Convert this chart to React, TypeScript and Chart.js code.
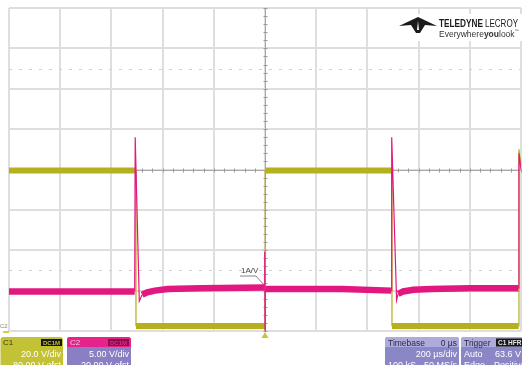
import React, { useEffect, useRef } from "react";
import { Chart, registerables } from "chart.js";

Chart.register(...registerables);

// Channel 1 (yellow) – time in µs, value in volts (20 V/div, -80 V offset)
const c1TimeUs = [-1000, -505, -504, 0, 1, 495, 496, 991, 992, 1000];
const c1Volts = [79.5, 79.5, 2.5, 2.5, 79.5, 79.5, 2.5, 2.5, 90, 82];

// Channel 2 (magenta) – time in µs, value in volts (5 V/div, -20 V offset)
const c2TimeUs = [-1000, -700, -509, -507, -491, -480, -460, -430, -380, -250, -2, -1, 0, 1, 3, 150, 300, 493, 495, 514, 520, 540, 580, 650, 800, 990, 992, 1000];
const c2Volts = [4.9, 4.9, 4.9, 24.0, 3.7, 4.5, 4.8, 5.0, 5.2, 5.3, 5.4, 9.8, 0.1, 5.2, 5.2, 5.2, 5.2, 5.0, 24.0, 3.8, 4.6, 4.9, 5.1, 5.2, 5.3, 5.3, 22.0, 20.0];

// Screen scales
const xMinUs = -1000;
const xMaxUs = 1000;
const xDivUs = 200;
const c1Min = 0;
const c1Max = 160;
const c1Div = 20;
const c2Min = 0;
const c2Max = 40;
const dottedLevelsC1 = [130, 30];

// Annotation texts
const c1Lines = ["C1", "DC1M", "20.0 V/div", "-80.00 V ofst"];
const c2Lines = ["C2", "DC1M", "5.00 V/div", "-20.00 V ofst"];
const timebaseLines = ["Timebase", "0 µs", "200 µs/div", "100 kS", "50 MS/s"];
const triggerLines = ["Trigger", "C1 HFR", "Auto", "63.6 V", "Edge", "Positive"];
const probeLabel = "1A/V";

const FONT = '"Liberation Sans", Arial, sans-serif';

function rrect(ctx: CanvasRenderingContext2D, x: number, y: number, w: number, h: number, r: number) {
  ctx.beginPath();
  ctx.moveTo(x + r, y);
  ctx.lineTo(x + w - r, y);
  ctx.quadraticCurveTo(x + w, y, x + w, y + r);
  ctx.lineTo(x + w, y + h - r);
  ctx.quadraticCurveTo(x + w, y + h, x + w - r, y + h);
  ctx.lineTo(x + r, y + h);
  ctx.quadraticCurveTo(x, y + h, x, y + h - r);
  ctx.lineTo(x, y + r);
  ctx.quadraticCurveTo(x, y, x + r, y);
  ctx.closePath();
}

function text(ctx: CanvasRenderingContext2D, s: string, x: number, y: number, color: string, size: number, align: CanvasTextAlign = "left", weight = "normal") {
  ctx.font = `${weight} ${size}px ${FONT}`;
  ctx.fillStyle = color;
  ctx.textAlign = align;
  ctx.textBaseline = "alphabetic";
  ctx.fillText(s, x, y);
}

const overlayPlugin = {
  id: "scopeOverlay",
  beforeDatasetsDraw(chart: any) {
    const { ctx, chartArea: a, scales } = chart;
    const xs = scales.x;
    const ys = scales.y;
    ctx.save();
    // dotted reference rows
    ctx.strokeStyle = "#d0d0d0";
    ctx.lineWidth = 1;
    ctx.setLineDash([3, 7]);
    for (const v of dottedLevelsC1) {
      const py = Math.round(ys.getPixelForValue(v)) + 0.5;
      ctx.beginPath();
      ctx.moveTo(a.left, py);
      ctx.lineTo(a.right, py);
      ctx.stroke();
    }
    ctx.setLineDash([]);
    // center crosshair with minor ticks
    const cx = Math.round(xs.getPixelForValue(0)) + 0.5;
    const cy = Math.round(ys.getPixelForValue((c1Min + c1Max) / 2)) + 0.5;
    ctx.strokeStyle = "#a8a8a8";
    ctx.beginPath();
    ctx.moveTo(a.left, cy);
    ctx.lineTo(a.right, cy);
    ctx.moveTo(cx, a.top);
    ctx.lineTo(cx, a.bottom);
    ctx.stroke();
    ctx.strokeStyle = "#9a9a9a";
    ctx.beginPath();
    for (let t = xMinUs; t <= xMaxUs; t += xDivUs / 5) {
      const px = Math.round(xs.getPixelForValue(t)) + 0.5;
      ctx.moveTo(px, cy - 2);
      ctx.lineTo(px, cy + 2);
    }
    for (let v = c1Min; v <= c1Max; v += c1Div / 5) {
      const py = Math.round(ys.getPixelForValue(v)) + 0.5;
      ctx.moveTo(cx - 2, py);
      ctx.lineTo(cx + 2, py);
    }
    ctx.stroke();
    // logo background
    ctx.fillStyle = "#ffffff";
    ctx.fillRect(395, 14, 127, 27);
    ctx.restore();
  },
  afterDraw(chart: any) {
    const { ctx, scales } = chart;
    const xs = scales.x;
    ctx.save();

    // Logo glyph
    ctx.fillStyle = "#1b1b1b";
    ctx.beginPath();
    ctx.moveTo(418, 17);
    ctx.lineTo(437, 26);
    ctx.lineTo(425, 25);
    ctx.lineTo(420, 33);
    ctx.lineTo(416, 33);
    ctx.lineTo(411, 25);
    ctx.lineTo(399, 26);
    ctx.closePath();
    ctx.fill();
    ctx.fillStyle = "#ffffff";
    ctx.beginPath();
    ctx.moveTo(418, 21);
    ctx.lineTo(419, 30);
    ctx.lineTo(417, 30);
    ctx.closePath();
    ctx.fill();

    ctx.font = `bold 10px ${FONT}`;
    ctx.fillStyle = "#1b1b1b";
    ctx.textAlign = "left";
    ctx.fillText("TELEDYNE", 439, 27, 44);
    ctx.font = `normal 10px ${FONT}`;
    ctx.fillText("LECROY", 485, 27, 33);
    let ex = 439;
    const parts: [string, string][] = [["Everywhere", "normal"], ["you", "bold"], ["look", "normal"]];
    for (const [s, w] of parts) {
      ctx.font = `${w} 8.5px ${FONT}`;
      ctx.fillStyle = "#333";
      ctx.fillText(s, ex, 37);
      ex += ctx.measureText(s).width;
    }
    ctx.font = `normal 4px ${FONT}`;
    ctx.fillText("™", ex, 32);

    // Probe label
    text(ctx, probeLabel, 241, 273, "#444", 8);
    ctx.strokeStyle = "#666";
    ctx.lineWidth = 0.8;
    ctx.beginPath();
    ctx.moveTo(240, 276);
    ctx.lineTo(256, 276);
    ctx.lineTo(264, 285);
    ctx.stroke();

    // C2 ground label + C1 marker
    text(ctx, "C2", 0, 328, "#8a8a60", 6);
    ctx.fillStyle = "#d4cf4a";
    ctx.fillRect(3, 331, 6, 2);

    // trigger position marker
    const tx = xs.getPixelForValue(0);
    ctx.fillStyle = "#c8c23a";
    ctx.beginPath();
    ctx.moveTo(tx, 332);
    ctx.lineTo(tx + 3.5, 338);
    ctx.lineTo(tx - 3.5, 338);
    ctx.closePath();
    ctx.fill();

    // C1 box
    rrect(ctx, 0.5, 337, 62.5, 40, 3);
    ctx.fillStyle = "#c3c136";
    ctx.fill();
    text(ctx, c1Lines[0], 3, 345, "#3a3a12", 8);
    ctx.fillStyle = "#161616";
    ctx.fillRect(41, 339, 21, 7);
    text(ctx, c1Lines[1], 51.5, 345, "#c3c136", 6, "center", "bold");
    text(ctx, c1Lines[2], 61, 357, "#ffffff", 9, "right");
    text(ctx, c1Lines[3], 61, 368, "#ffffff", 9, "right");

    // C2 box
    rrect(ctx, 67, 337, 64, 40, 3);
    ctx.fillStyle = "#8a7fc2";
    ctx.fill();
    rrect(ctx, 67, 337, 64, 10, 3);
    ctx.fillStyle = "#e6228b";
    ctx.fill();
    ctx.fillRect(67, 343, 64, 4);
    text(ctx, c2Lines[0], 70, 345, "#f8c8e0", 8);
    ctx.fillStyle = "#8c0f4a";
    ctx.fillRect(108, 339, 21, 7);
    text(ctx, c2Lines[1], 118.5, 345, "#e6228b", 6, "center", "bold");
    text(ctx, c2Lines[2], 129, 357, "#ffffff", 9, "right");
    text(ctx, c2Lines[3], 129, 368, "#ffffff", 9, "right");

    // Timebase box
    rrect(ctx, 385, 337, 74, 40, 3);
    ctx.fillStyle = "#8b86c6";
    ctx.fill();
    rrect(ctx, 385, 337, 74, 10, 3);
    ctx.fillStyle = "#aeaadb";
    ctx.fill();
    ctx.fillRect(385, 343, 74, 4);
    text(ctx, timebaseLines[0], 388, 345.5, "#2a2a44", 8.5);
    text(ctx, timebaseLines[1], 457, 345.5, "#2a2a44", 8.5, "right");
    text(ctx, timebaseLines[2], 457, 357, "#ffffff", 9, "right");
    text(ctx, timebaseLines[3], 388, 368, "#ffffff", 9);
    text(ctx, timebaseLines[4], 457, 368, "#ffffff", 9, "right");

    // Trigger box
    rrect(ctx, 461, 337, 70, 40, 3);
    ctx.fillStyle = "#8b86c6";
    ctx.fill();
    rrect(ctx, 461, 337, 70, 10, 3);
    ctx.fillStyle = "#aeaadb";
    ctx.fill();
    ctx.fillRect(461, 343, 70, 4);
    text(ctx, triggerLines[0], 464, 345.5, "#2a2a44", 8.5);
    ctx.fillStyle = "#161616";
    ctx.fillRect(496, 338.5, 28, 8);
    text(ctx, triggerLines[1], 498, 345, "#e8e8e8", 6.5, "left", "bold");
    text(ctx, triggerLines[2], 464, 357, "#ffffff", 9);
    text(ctx, triggerLines[3], 521, 357, "#ffffff", 9, "right");
    text(ctx, triggerLines[4], 464, 368, "#ffffff", 9);
    text(ctx, triggerLines[5], 494, 368, "#ffffff", 9);

    ctx.restore();
  },
};

function segWidth(thick: number) {
  return (ctx: any) => {
    const dx = Math.abs(ctx.p1.x - ctx.p0.x);
    const dy = Math.abs(ctx.p1.y - ctx.p0.y);
    return dy > 2 * dx ? 1.2 : thick;
  };
}

export default function App() {
  const canvasRef = useRef<HTMLCanvasElement | null>(null);

  useEffect(() => {
    if (!canvasRef.current) return;
    const chart = new Chart(canvasRef.current, {
      type: "line",
      data: {
        datasets: [
          {
            label: "C1",
            data: c1TimeUs.map((t, i) => ({ x: t, y: c1Volts[i] })),
            borderColor: "#b4b01e",
            borderWidth: 6,
            pointRadius: 0,
            tension: 0,
            yAxisID: "y",
            order: 1,
            segment: { borderWidth: segWidth(6) },
          },
          {
            label: "C2",
            data: c2TimeUs.map((t, i) => ({ x: t, y: c2Volts[i] })),
            borderColor: "#e2177f",
            borderWidth: 6,
            pointRadius: 0,
            tension: 0,
            yAxisID: "y2",
            order: 0,
            segment: { borderWidth: segWidth(6.5) },
          },
        ],
      },
      options: {
        responsive: false,
        animation: false,
        events: [],
        layout: { padding: { left: 9, right: 1, top: 8, bottom: 34 } },
        plugins: { legend: { display: false }, tooltip: { enabled: false } },
        scales: {
          x: {
            type: "linear",
            min: xMinUs,
            max: xMaxUs,
            ticks: { display: false, stepSize: xDivUs },
            grid: { color: "#dedede", lineWidth: 2, drawTicks: false },
            border: { display: false },
          },
          y: {
            type: "linear",
            min: c1Min,
            max: c1Max,
            ticks: { display: false, stepSize: c1Div },
            grid: { color: "#dedede", lineWidth: 2, drawTicks: false },
            border: { display: false },
          },
          y2: { type: "linear", display: false, min: c2Min, max: c2Max },
        },
      },
      plugins: [overlayPlugin],
    });
    return () => chart.destroy();
  }, []);

  return (
    <div style={{ position: "fixed", left: 0, top: 0, width: 522, height: 365, background: "#fff", overflow: "hidden" }}>
      <canvas ref={canvasRef} width={522} height={365} style={{ display: "block" }} />
    </div>
  );
}
